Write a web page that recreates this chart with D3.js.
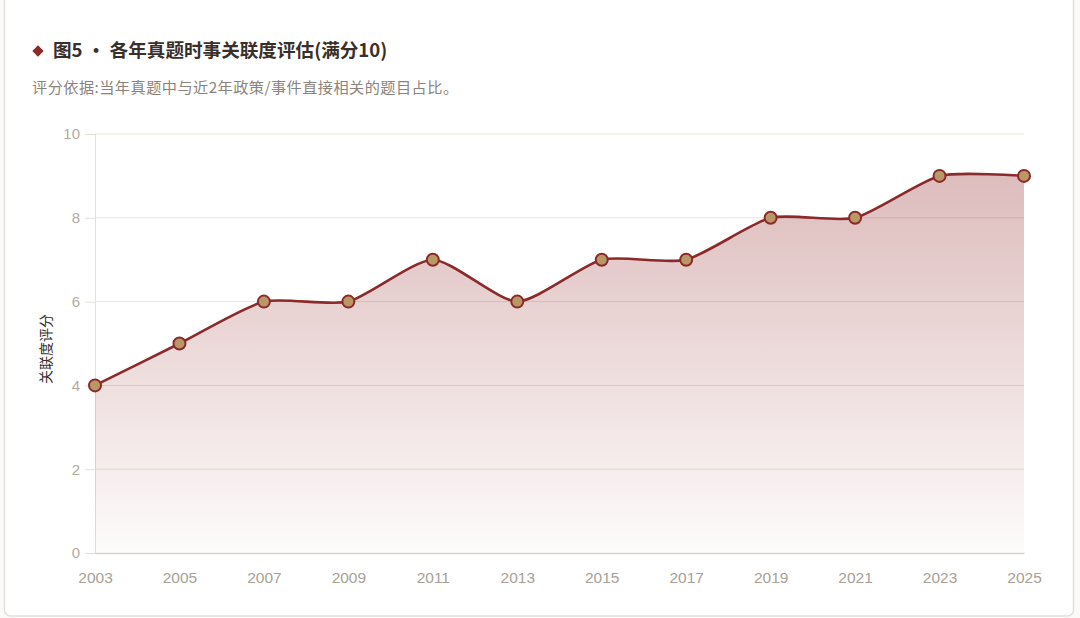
<!DOCTYPE html>
<html>
<head>
<meta charset="utf-8">
<script src="https://cdn.jsdelivr.net/npm/d3@7"></script>
<style>
  html, body { margin: 0; padding: 0; background: #fbfaf8; }
  #canvas { width: 1080px; height: 618px; }
</style>
</head>
<body>
<div id="canvas"></div>
<script>
"use strict"

/* chart data */
let years = ["2003", "2005", "2007", "2009", "2011", "2013", "2015", "2017", "2019", "2021", "2023", "2025"];
let scores = [4, 5, 6, 6, 7, 6, 7, 7, 8, 8, 9, 9];
let yTicks = [0, 2, 4, 6, 8, 10];

let titleText = "图5 · 各年真题时事关联度评估(满分10)";
let subText = "评分依据:当年真题中与近2年政策/事件直接相关的题目占比。";
let yLabel = "关联度评分";

let font = "'Noto Sans CJK SC', 'Noto Sans', sans-serif";
let numFont = "'Liberation Sans', 'DejaVu Sans', sans-serif";

let drawing = d3.select("#canvas")
    .append("svg")
    .attr("width", 1080)
    .attr("height", 618);

/* card behind everything */
let card = drawing.append("rect")
    .attr("x", 4.5)
    .attr("y", -6)
    .attr("width", 1069)
    .attr("height", 622)
    .attr("rx", 6)
    .attr("fill", "#ffffff")
    .attr("stroke", "#e4e0d9")
    .attr("stroke-width", 1.5);

/* title */
let diamond = drawing.append("rect")
    .attr("x", -4)
    .attr("y", -4)
    .attr("width", 8)
    .attr("height", 8)
    .attr("transform", "translate(38,51) rotate(45)")
    .attr("fill", "#8b2a2a");

let title = drawing.append("text")
    .attr("x", 53)
    .attr("y", 57)
    .attr("font-family", font)
    .attr("font-size", 18.6)
    .attr("font-weight", "bold")
    .attr("fill", "#3a2f2a")
    .text(titleText);

let subtitle = drawing.append("text")
    .attr("x", 32)
    .attr("y", 93)
    .attr("font-family", font)
    .attr("font-size", 15.2)
    .attr("letter-spacing", 0.45)
    .attr("fill", "#8a847c")
    .text(subText);

/* scales */
let x = d3.scalePoint()
    .domain(years)
    .range([95, 1024]);

let y = d3.scaleLinear()
    .domain([0, 10])
    .range([553, 134]);

/* gradient for area */
let defs = drawing.append("defs");
let grad = defs.append("linearGradient")
    .attr("id", "areaFill")
    .attr("x1", 0).attr("y1", 0)
    .attr("x2", 0).attr("y2", 1);
grad.append("stop").attr("offset", "0%").attr("stop-color", "#9c3a3a").attr("stop-opacity", 0.34);
grad.append("stop").attr("offset", "100%").attr("stop-color", "#9c3a3a").attr("stop-opacity", 0.02);

/* grid lines */
let grid = drawing.append("g")
    .selectAll("line")
    .data(yTicks.filter(d => d > 0))
    .join("line")
    .attr("x1", 95)
    .attr("x2", 1024)
    .attr("y1", d => y(d))
    .attr("y2", d => y(d))
    .attr("stroke", "#e8e4da")
    .attr("stroke-width", 1);

/* y axis */
let yAxis = drawing.append("g")
    .attr("transform", "translate(95,0)")
    .call(d3.axisLeft(y).tickValues(yTicks).tickSize(10).tickPadding(5));
yAxis.select(".domain").attr("stroke", "#e4e0d8");
yAxis.selectAll(".tick line").attr("stroke", "#e4e0d8");
yAxis.selectAll(".tick text")
    .attr("font-family", numFont)
    .attr("font-size", 15)
    .attr("fill", "#b3ab9e");

/* x axis */
let xAxis = drawing.append("g")
    .attr("transform", "translate(0,553)")
    .call(d3.axisBottom(x).tickSize(0).tickPadding(19));
xAxis.select(".domain").attr("stroke", "#d8d3cc").attr("stroke-width", 1.5);
xAxis.selectAll(".tick text")
    .attr("font-family", numFont)
    .attr("font-size", 15.5)
    .attr("fill", "#a8a196");

/* y axis title */
let yTitle = drawing.append("text")
    .attr("transform", "translate(51,349) rotate(-90)")
    .attr("text-anchor", "middle")
    .attr("font-family", font)
    .attr("font-size", 14)
    .attr("fill", "#3a2f2a")
    .text(yLabel);

/* area + line */
let curve = d3.curveCardinal.tension(0.35);

let area = d3.area()
    .x((d, i) => x(years[i]))
    .y0(y(0))
    .y1(d => y(d))
    .curve(curve);

let line = d3.line()
    .x((d, i) => x(years[i]))
    .y(d => y(d))
    .curve(curve);

let scoreArea = drawing.append("path")
    .datum(scores)
    .attr("d", area)
    .attr("fill", "url(#areaFill)");

let scoreLine = drawing.append("path")
    .datum(scores)
    .attr("d", line)
    .attr("fill", "none")
    .attr("stroke", "#8b2a2a")
    .attr("stroke-width", 2.6);

let dots = drawing.append("g")
    .selectAll("circle")
    .data(scores)
    .join("circle")
    .attr("cx", (d, i) => x(years[i]))
    .attr("cy", d => y(d))
    .attr("r", 6)
    .attr("fill", "#b99866")
    .attr("stroke", "#8b2a2a")
    .attr("stroke-width", 2);
</script>
</body>
</html>
